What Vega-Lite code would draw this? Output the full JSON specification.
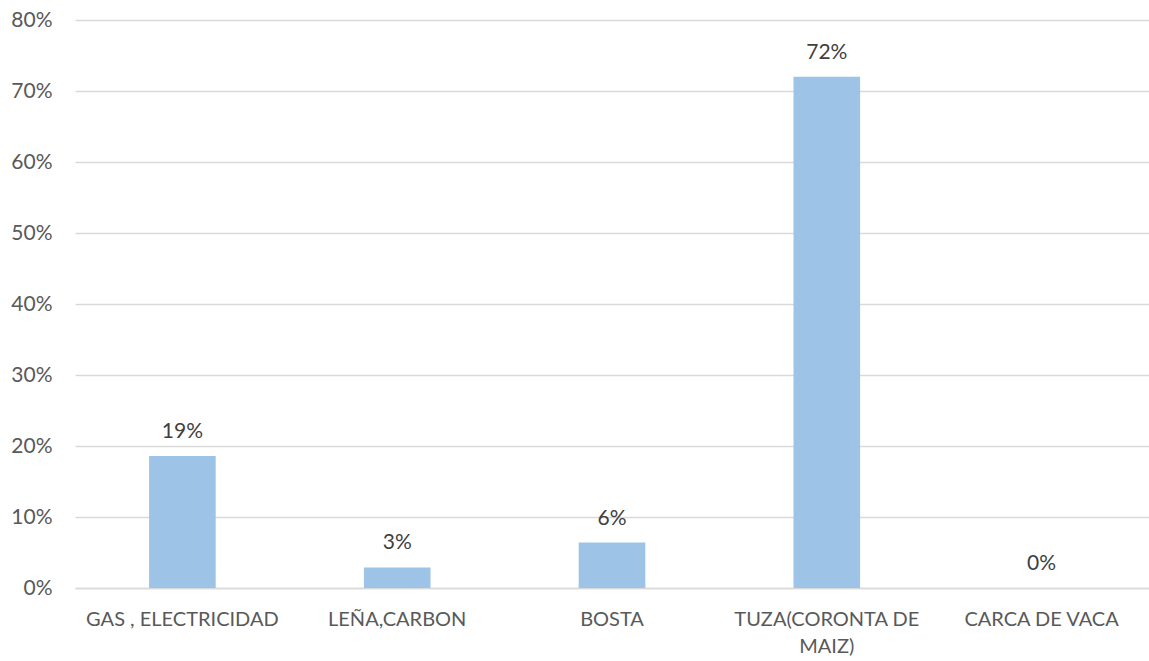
{
  "$schema": "https://vega.github.io/schema/vega-lite/v6.json",
  "autosize": {"type": "none"},
  "width": 1074,
  "height": 568,
  "padding": {"left": 75, "top": 20, "right": 0, "bottom": 73},
  "background": "white",
  "config": {
    "view": {"stroke": null},
    "font": "Lato"
  },
  "data": {
    "values": [
      {"combustible": "GAS , ELECTRICIDAD", "porcentaje": 0.186},
      {"combustible": "LEÑA,CARBON", "porcentaje": 0.029},
      {"combustible": "BOSTA", "porcentaje": 0.064},
      {"combustible": "TUZA(CORONTA DE MAIZ)", "porcentaje": 0.72},
      {"combustible": "CARCA DE VACA", "porcentaje": 0.0}
    ]
  },
  "encoding": {
    "x": {
      "field": "combustible",
      "type": "nominal",
      "sort": null,
      "scale": {"paddingInner": 0.69, "paddingOuter": 0.345},
      "axis": {
        "title": null,
        "labelAngle": 0,
        "labelFont": "Lato",
        "labelFontSize": 20,
        "labelColor": "#595959",
        "labelPadding": 21,
        "labelLineHeight": 27,
        "labelBaseline": "top",
        "labelLimit": 0,
        "ticks": false,
        "domainColor": "#D9D9D9",
        "domainWidth": 1.3,
        "labelExpr": "datum.label == 'TUZA(CORONTA DE MAIZ)' ? ['TUZA(CORONTA DE', 'MAIZ)'] : datum.label"
      }
    },
    "y": {
      "field": "porcentaje",
      "type": "quantitative",
      "scale": {"domain": [0, 0.8], "nice": false},
      "axis": {
        "title": null,
        "format": ".0%",
        "values": [0, 0.1, 0.2, 0.3, 0.4, 0.5, 0.6, 0.7, 0.8],
        "labelFont": "Lato",
        "labelFontSize": 21,
        "labelColor": "#595959",
        "labelPadding": 23,
        "ticks": false,
        "domain": false,
        "gridColor": "#D9D9D9",
        "gridWidth": 1.3
      }
    }
  },
  "layer": [
    {
      "mark": {"type": "bar", "color": "#9DC3E6"}
    },
    {
      "mark": {
        "type": "text",
        "baseline": "alphabetic",
        "dy": -18,
        "fontSize": 21,
        "font": "Lato",
        "color": "#404040"
      },
      "encoding": {
        "text": {"field": "porcentaje", "type": "quantitative", "format": ".0%"}
      }
    }
  ]
}
